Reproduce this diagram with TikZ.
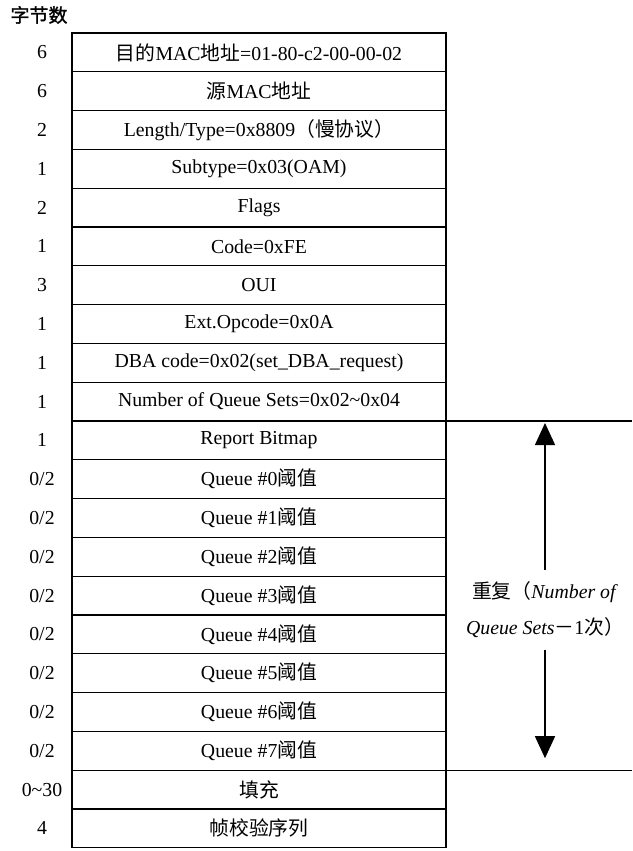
\documentclass[tikz,border=0pt]{standalone}
\usepackage{fontspec}
\setmainfont{Liberation Serif}
\newfontfamily\cjkfont{Noto Sans CJK SC}
\newfontfamily\cjkbold{Noto Sans CJK SC}[FakeBold=1.5]
\newcommand{\zh}[1]{{\cjkfont #1}}
\usetikzlibrary{arrows.meta,positioning,calc}

\begin{document}
\begin{tikzpicture}[x=1pt,y=-1pt,
  field/.style={draw, line width=1.2pt, rectangle, minimum width=374pt, minimum height=38.8pt, inner sep=0pt, outer sep=0pt, font=\fontsize{19.8}{22}\selectfont},
  bytes/.style={font=\fontsize{19.8}{22}\selectfont},
  bigarrow/.style={-{Triangle[width=20pt,length=22pt]}, line width=1.4pt}]
\useasboundingbox (0,0) rectangle (632,851);
\coordinate (numcol) at (42,0);
\coordinate (rt) at (632,0);

\node[font=\fontsize{19}{22}\cjkbold] (head) at (39,15) {字节数};

% frame fields
\node[field] (f1) at (259,52.4) {\zh{目的}MAC\zh{地址}=01-80-c2-00-00-02};
\node[field, below=0pt of f1] (f2) {\zh{源}MAC\zh{地址}};
\node[field, below=0pt of f2] (f3) {Length/Type=0x8809\zh{（慢协议）}};
\node[field, below=0pt of f3] (f4) {Subtype=0x03(OAM)};
\node[field, below=0pt of f4] (f5) {Flags};
\node[field, below=0pt of f5] (f6) {Code=0xFE};
\node[field, below=0pt of f6] (f7) {OUI};
\node[field, below=0pt of f7] (f8) {Ext.Opcode=0x0A};
\node[field, below=0pt of f8] (f9) {DBA code=0x02(set\_DBA\_request)};
\node[field, below=0pt of f9] (f10) {Number of Queue Sets=0x02\textasciitilde0x04};
\node[field, below=0pt of f10] (f11) {Report Bitmap};
\node[field, below=0pt of f11] (f12) {Queue \#0\zh{阈值}};
\node[field, below=0pt of f12] (f13) {Queue \#1\zh{阈值}};
\node[field, below=0pt of f13] (f14) {Queue \#2\zh{阈值}};
\node[field, below=0pt of f14] (f15) {Queue \#3\zh{阈值}};
\node[field, below=0pt of f15] (f16) {Queue \#4\zh{阈值}};
\node[field, below=0pt of f16] (f17) {Queue \#5\zh{阈值}};
\node[field, below=0pt of f17] (f18) {Queue \#6\zh{阈值}};
\node[field, below=0pt of f18] (f19) {Queue \#7\zh{阈值}};
\node[field, below=0pt of f19] (f20) {\zh{填充}};
\node[field, below=0pt of f20] (f21) {\zh{帧校验序列}};

% byte counts
\node[bytes] (n1) at (f1 -| numcol) {6};
\node[bytes] (n2) at (f2 -| numcol) {6};
\node[bytes] (n3) at (f3 -| numcol) {2};
\node[bytes] (n4) at (f4 -| numcol) {1};
\node[bytes] (n5) at (f5 -| numcol) {2};
\node[bytes] (n6) at (f6 -| numcol) {1};
\node[bytes] (n7) at (f7 -| numcol) {3};
\node[bytes] (n8) at (f8 -| numcol) {1};
\node[bytes] (n9) at (f9 -| numcol) {1};
\node[bytes] (n10) at (f10 -| numcol) {1};
\node[bytes] (n11) at (f11 -| numcol) {1};
\node[bytes] (n12) at (f12 -| numcol) {0/2};
\node[bytes] (n13) at (f13 -| numcol) {0/2};
\node[bytes] (n14) at (f14 -| numcol) {0/2};
\node[bytes] (n15) at (f15 -| numcol) {0/2};
\node[bytes] (n16) at (f16 -| numcol) {0/2};
\node[bytes] (n17) at (f17 -| numcol) {0/2};
\node[bytes] (n18) at (f18 -| numcol) {0/2};
\node[bytes] (n19) at (f19 -| numcol) {0/2};
\node[bytes] (n20) at (f20 -| numcol) {0\textasciitilde30};
\node[bytes] (n21) at (f21 -| numcol) {4};

% repeated block
\draw[line width=1.2pt] (f11.north east) -- (f11.north east -| rt);
\draw[line width=1.2pt] (f19.south east) -- (f19.south east -| rt);
\node[align=center, inner xsep=0pt, inner ysep=12pt, font=\fontsize{19.8}{36}\selectfont] (rep) at (545,610)
  {\zh{重复（}\textit{Number of}\\ \textit{Queue Sets}\zh{－}1\zh{次）}};
\draw[bigarrow, shorten >=2pt] (rep.north) -- (rep.north |- f11.north);
\draw[bigarrow, shorten >=12pt] (rep.south) -- (rep.south |- f19.south);
\end{tikzpicture}
\end{document}
